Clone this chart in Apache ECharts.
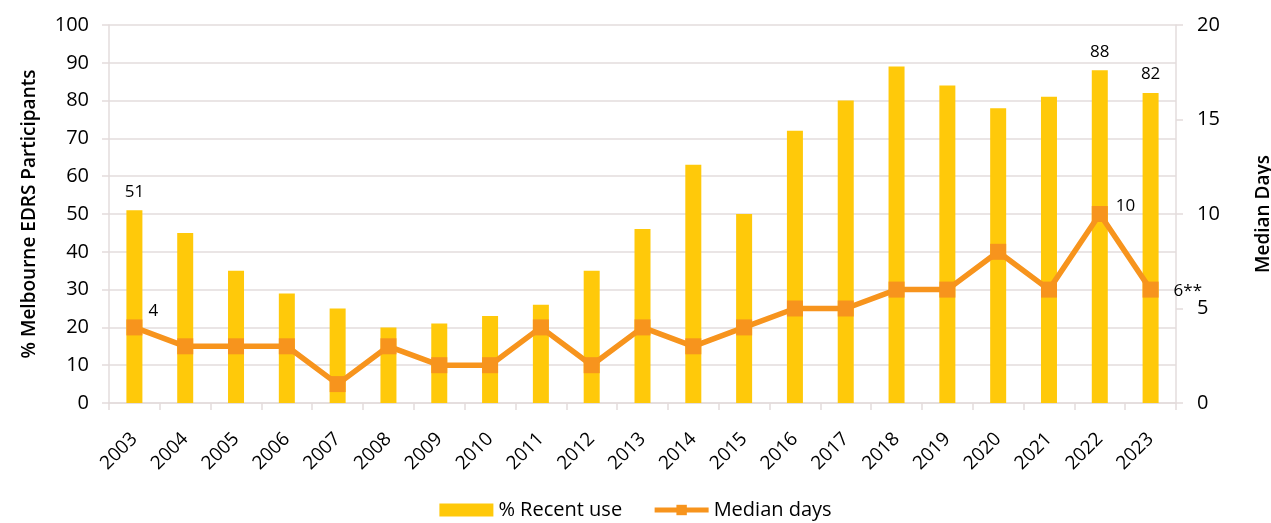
<!DOCTYPE html>
<html><head><meta charset="utf-8">
<script src="https://cdn.jsdelivr.net/npm/echarts@6/dist/echarts.min.js"></script>
<style>html,body{margin:0;padding:0;background:#fff}#c{width:1271px;height:523px}</style>
</head><body><div id="c"></div>
<script>
const years = ['2003','2004','2005','2006','2007','2008','2009','2010','2011','2012','2013','2014','2015','2016','2017','2018','2019','2020','2021','2022','2023'];
const recentUse = [51,45,35,29,25,20,21,23,26,35,46,63,50,72,80,89,84,78,81,88,82];
const medianDays = [4,3,3,3,1,3,2,2,4,2,4,3,4,5,5,6,6,8,6,10,6];
const barLabelIdx = [0,19,20];
const lineLabels = {0:{text:'4',offset:[-4,-16]},19:{text:'10',offset:[-2,-8]},20:{text:'6**',offset:[5,2]}};

const FONT = '"Open Sans", "Noto Sans", sans-serif';
const grid = '#E3DCDC';
const chart = echarts.init(document.getElementById('c'));
chart.setOption({
  animation:false,
  textStyle:{fontFamily:FONT,color:'#000'},
  grid:{left:109,right:95,top:25,bottom:120,containLabel:false,outerBoundsMode:'none'},
  legend:{
    bottom:-2,left:'center',itemWidth:54,itemHeight:13,itemGap:30,
    textStyle:{fontFamily:FONT,fontSize:20,color:'#000'},
    data:[{name:'% Recent use',icon:'rect'},{name:'Median days',lineStyle:{width:5}}]
  },
  xAxis:{
    type:'category',data:years,boundaryGap:true,
    axisLine:{lineStyle:{color:grid,width:1.5}},
    axisTick:{show:true,length:7,lineStyle:{color:grid,width:1.5}},
    axisLabel:{rotate:45,fontSize:19,color:'#000',margin:33,fontFamily:FONT}
  },
  yAxis:[{
    type:'value',min:0,max:100,interval:10,
    name:'% Melbourne EDRS Participants',nameLocation:'middle',nameRotate:90,nameGap:70,
    nameTextStyle:{fontSize:19,fontWeight:600,color:'#000',fontFamily:FONT},
    axisLine:{show:true,lineStyle:{color:grid,width:1.5}},
    axisTick:{show:true,length:7,lineStyle:{color:grid,width:1.5}},
    axisLabel:{fontSize:20,color:'#000',margin:20,fontFamily:FONT},
    splitLine:{show:true,lineStyle:{color:grid,width:1.5}}
  },{
    type:'value',min:0,max:20,interval:5,position:'right',
    name:'Median Days',nameLocation:'middle',nameRotate:90,nameGap:78,
    nameTextStyle:{fontSize:19,fontWeight:600,color:'#000',fontFamily:FONT},
    axisLine:{show:true,lineStyle:{color:grid,width:1.5}},
    axisTick:{show:true,length:7,lineStyle:{color:grid,width:1.5}},
    axisLabel:{fontSize:20,color:'#000',margin:21,fontFamily:FONT},
    splitLine:{show:false}
  }],
  series:[{
    name:'% Recent use',type:'bar',yAxisIndex:0,barWidth:16,
    itemStyle:{color:'#FFC90A'},
    data:recentUse.map((v,i)=>barLabelIdx.includes(i)?{value:v,label:{show:true,position:'top',distance:10,fontSize:17,color:'#000',fontFamily:FONT}}:v)
  },{
    name:'Median days',type:'line',yAxisIndex:1,
    symbol:'rect',symbolSize:16,
    lineStyle:{color:'#F7941D',width:5.5},
    itemStyle:{color:'#F7941D'},
    data:medianDays.map((v,i)=>lineLabels[i]?{value:v,label:{show:true,position:'right',distance:10,offset:lineLabels[i].offset,formatter:lineLabels[i].text,fontSize:17,color:'#000',fontFamily:FONT}}:v),
    z:3
  }]
});
</script></body></html>
